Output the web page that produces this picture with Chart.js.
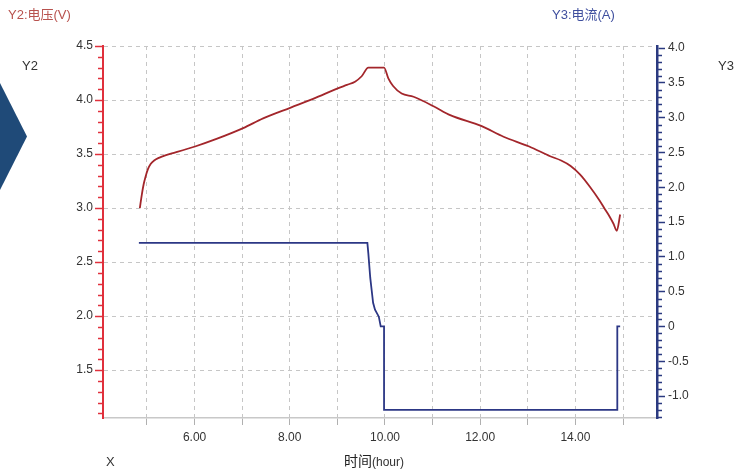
<!DOCTYPE html>
<html lang="zh">
<head>
<meta charset="UTF-8">
<title>电压 / 电流 曲线</title>
<script src="https://cdn.jsdelivr.net/npm/chart.js"></script>
<style>
  body { margin: 0; background: #fff; font-family: "Liberation Sans", Arial, "Noto Sans CJK SC", sans-serif; }
  #wrap { position: relative; width: 736px; height: 471px; overflow: hidden; }
  #wrap canvas { position: absolute; left: 0; top: 0; }
  .lbl { position: absolute; white-space: nowrap; font-size: 13px; line-height: 16px; color: #333; }
  .chev { position: absolute; left: 0; top: 83px; width: 27px; height: 107px; background: #1f4a78;
          clip-path: polygon(0 0, 100% 50%, 0 100%); }
</style>
</head>
<body>
<div id="wrap">
  <canvas id="vcChart" width="736" height="471"></canvas>
  <div class="chev"></div>
  <div class="lbl" style="left:8px;top:7px;color:#b8524e;">Y2:电压(V)</div>
  <div class="lbl" style="left:552px;top:7px;color:#3f4f9e;">Y3:电流(A)</div>
  <div class="lbl" style="left:22px;top:58px;">Y2</div>
  <div class="lbl" style="left:718px;top:58px;">Y3</div>
  <div class="lbl" style="left:106px;top:454px;">X</div>
  <div class="lbl" style="left:344px;top:453px;"><span style="font-size:14px;color:#222;">时间</span><span style="font-size:12px;">(hour)</span></div>
</div>

<script>
// 电压曲线 (Y2, V)
const voltHours = [4.85, 4.89, 4.93, 4.97, 5.02, 5.08, 5.15, 5.25, 5.40, 5.60, 6.01, 6.46, 7.02, 7.44, 8.02, 8.49,
                   9.02, 9.20, 9.37, 9.51, 9.65, 9.98, 10.07, 10.17, 10.35, 10.60, 11.03, 11.37,
                   12.02, 12.49, 13.03, 13.47, 13.70, 13.90, 14.10, 14.30, 14.50, 14.62, 14.72, 14.80, 14.87, 14.94];
const voltValues = [3.00, 3.12, 3.22, 3.29, 3.36, 3.41, 3.44, 3.465, 3.49, 3.515, 3.57, 3.64, 3.74, 3.83, 3.93, 4.01,
                    4.11, 4.14, 4.17, 4.22, 4.30, 4.30, 4.20, 4.13, 4.06, 4.03, 3.94, 3.86,
                    3.76, 3.66, 3.57, 3.48, 3.44, 3.39, 3.31, 3.20, 3.075, 2.99, 2.92, 2.855, 2.79, 2.94];

// 电流曲线 (Y3, A)
const currHours = [4.83, 9.63, 9.65, 9.69, 9.72, 9.75, 9.79, 9.87, 9.91, 9.98, 9.98, 14.88, 14.88, 14.94];
const currValues = [1.2, 1.2, 1.05, 0.70, 0.52, 0.34, 0.24, 0.14, 0.0, 0.0, -1.2, -1.2, 0.0, 0.0];

// 坐标轴范围
const xMin = 4.076, xMax = 15.714;
const vMin = 1.057, vMax = 4.5;
const iMin = -1.316, iMax = 4.03;

const RED_AXIS = "#e0303c";
const BLUE_AXIS = "#2b3a80";
const GRID = "#c6c6c6";

function isMajor(v) { return Math.abs(v * 2 - Math.round(v * 2)) < 1e-6; }

// 次刻度（短线）
const minorTicks = {
  id: "minorTicks",
  afterDraw(chart) {
    const c = chart.ctx;
    [["yV", RED_AXIS, -1], ["yI", BLUE_AXIS, 1]].forEach(([id, col, dir]) => {
      const s = chart.scales[id];
      const x0 = dir < 0 ? s.right : s.left;
      c.save();
      c.strokeStyle = col;
      c.lineWidth = 1.5;
      s.ticks.forEach(t => {
        if (isMajor(t.value)) return;
        const y = Math.round(s.getPixelForValue(t.value)) + 0.5;
        c.beginPath();
        c.moveTo(x0, y);
        c.lineTo(x0 + dir * 5, y);
        c.stroke();
      });
      c.restore();
    });
  }
};

let ctx = document.getElementById("vcChart").getContext("2d");
let chart = new Chart(ctx, {
  type: "line",
  data: {
    datasets: [
      {
        label: "电压",
        data: voltHours.map((h, i) => ({ x: h, y: voltValues[i] })),
        yAxisID: "yV",
        borderColor: "#a3262b",
        borderWidth: 1.8,
        pointRadius: 0,
        cubicInterpolationMode: "monotone"
      },
      {
        label: "电流",
        data: currHours.map((h, i) => ({ x: h, y: currValues[i] })),
        yAxisID: "yI",
        borderColor: "#2c3785",
        borderWidth: 1.8,
        pointRadius: 0,
        tension: 0
      }
    ]
  },
  options: {
    responsive: false,
    animation: false,
    layout: { padding: { top: 46, left: 0, right: 0, bottom: 0 } },
    plugins: { legend: { display: false }, tooltip: { enabled: false } },
    scales: {
      x: {
        type: "linear",
        min: xMin, max: xMax,
        afterFit(s) { s.height = 53; },
        ticks: {
          stepSize: 1, includeBounds: false, autoSkip: false, maxRotation: 0,
          padding: 5, color: "#333", font: { size: 12 },
          callback: v => (Math.round(v) % 2 === 0 ? v.toFixed(2) : "")
        },
        grid: { color: GRID, tickColor: "#b0b0b0", tickLength: 7, tickBorderDash: [] },
        border: { color: "#c8c8c8", width: 1.5, dash: [4, 4] }
      },
      yV: {
        position: "left",
        min: vMin, max: vMax,
        afterFit(s) { s.width = 103; },
        ticks: {
          stepSize: 0.1, includeBounds: false, autoSkip: false,
          padding: 2, color: "#333", font: { size: 12 },
          callback: v => (isMajor(v) ? v.toFixed(1) : "")
        },
        grid: {
          color: c => (c.tick && isMajor(c.tick.value) ? GRID : "rgba(0,0,0,0)"),
          tickColor: c => (c.tick && isMajor(c.tick.value) ? RED_AXIS : "rgba(0,0,0,0)"),
          tickLength: 8, tickWidth: 1.5, tickBorderDash: []
        },
        border: { color: RED_AXIS, width: 2, dash: [4, 4] }
      },
      yI: {
        position: "right",
        min: iMin, max: iMax,
        afterFit(s) { s.width = 79; },
        ticks: {
          stepSize: 0.1, includeBounds: false, autoSkip: false,
          padding: 3, color: "#333", font: { size: 12 },
          callback: v => (isMajor(v) ? (Math.abs(v) < 1e-9 ? "0" : v.toFixed(1)) : "")
        },
        grid: {
          drawOnChartArea: false,
          tickColor: c => (c.tick && isMajor(c.tick.value) ? BLUE_AXIS : "rgba(0,0,0,0)"),
          tickLength: 8, tickWidth: 1.5, tickBorderDash: []
        },
        border: { color: BLUE_AXIS, width: 2.5 }
      }
    }
  },
  plugins: [minorTicks]
});
</script>
</body>
</html>
